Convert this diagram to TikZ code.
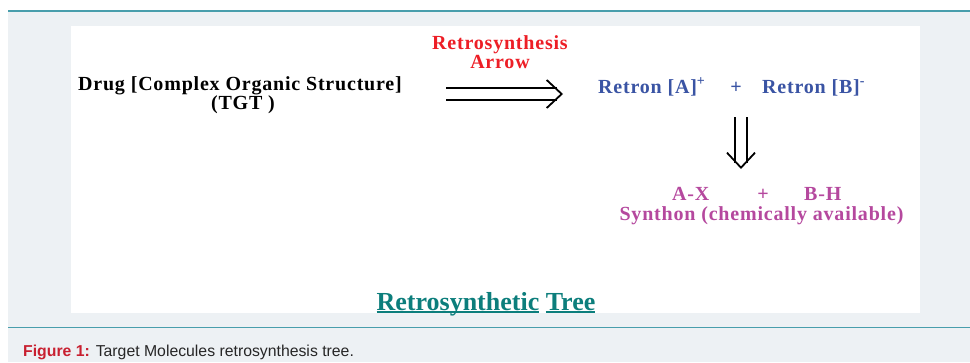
\documentclass[tikz,border=0pt]{standalone}
\usepackage{fontspec}
\setmainfont{Liberation Serif}
\newfontfamily\serifls[LetterSpace=4]{Liberation Serif}
\newfontfamily\legende{Liberation Sans}
\usepackage{tikz}
\usetikzlibrary{arrows.meta,positioning}
\definecolor{rouge}{RGB}{237,30,38}
\definecolor{bleu}{RGB}{58,84,164}
\definecolor{mauve}{RGB}{181,72,158}
\definecolor{sarcelle}{RGB}{12,126,124}
\definecolor{filet}{RGB}{72,158,172}
\definecolor{fond}{RGB}{237,241,244}
\definecolor{rougefig}{RGB}{200,32,48}
\newcommand{\souligne}[1]{\setbox0\hbox{#1}\rlap{\rule[-3.2pt]{\wd0}{1.8pt}}\box0\relax}

\begin{document}
\begin{tikzpicture}[x=1pt,y=-1pt,
    txt/.style={font=\serifls\bfseries\fontsize{20}{20}\selectfont,inner sep=0pt,anchor=base},
    rail/.style={double,double distance=10pt,line width=1.8pt,shorten >=6pt},
    pointe/.style={line width=1.8pt,-{Straight Barb[length=15pt,width=28pt]}}]
  % fond, filets et cadre blanc
  \useasboundingbox (0,0) rectangle (970,362);
  \fill[fond] (8,11) rectangle (970,362);
  \draw[filet,line width=2pt] (8,11)--(970,11);
  \fill[white] (71,26) rectangle (920,313);
  \draw[filet,line width=1.6pt] (8,327.5)--(970,327.5);
  % molecule cible
  \node[txt] (drug) at (240,90) {Drug [Complex Organic Structure]};
  \node[txt] (tgt) at (243,109) {(TGT )};
  % fleche de retrosynthese
  \node[txt,rouge] (retro) at (500,49) {Retrosynthesis};
  \node[txt,rouge] (fleche) at (500,68) {Arrow};
  \coordinate (fl1) at (446,94);
  \coordinate (fl2) at (563,94);
  \draw[rail] (fl1)--(fl2);
  \draw[pointe] (fl2) ++(-1,0)--(fl2);
  % retrons
  \node[txt,bleu,anchor=base west] (retronA) at (598,93) {Retron [A]\textsuperscript{+}};
  \node[txt,bleu] (plusR) at (736,93) {+};
  \node[txt,bleu,anchor=base west] (retronB) at (762,93) {Retron [B]\textsuperscript{-}};
  \coordinate (fb1) at (741,117);
  \coordinate (fb2) at (741,169);
  \draw[rail] (fb1)--(fb2);
  \draw[pointe] (fb2) ++(0,-1)--(fb2);
  % synthons
  \node[txt,mauve,anchor=base west] (ax) at (672,200) {A-X};
  \node[txt,mauve] (plusS) at (763,200) {+};
  \node[txt,mauve,anchor=base west] (bh) at (804,200) {B-H};
  \node[txt,mauve] (synthon) at (761.5,220) {Synthon (chemically available)};
  % titre
  \node[inner sep=0pt,anchor=base,text=sarcelle,font=\bfseries\fontsize{26}{26}\selectfont]
    (titre) at (486,310) {\souligne{Retrosynthetic} \souligne{Tree}};
  % legende
  \node[inner sep=0pt,anchor=base west,font=\legende\fontsize{15.8}{20}\selectfont,text=black!85]
    (leg) at (23,356.5) {\textcolor{rougefig}{\bfseries Figure 1:} Target Molecules retrosynthesis tree.};
\end{tikzpicture}
\end{document}
